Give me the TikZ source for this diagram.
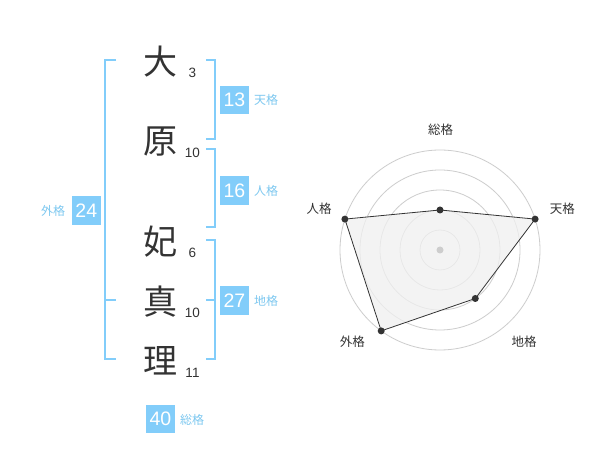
\documentclass[tikz,border=0pt]{standalone}
\usepackage{fontspec}
\setmainfont{Liberation Sans}
\newfontfamily\jp{Noto Sans CJK JP}
\definecolor{sky}{RGB}{130,205,250}
\definecolor{skytext}{RGB}{125,200,240}
\definecolor{ink}{RGB}{51,51,51}
\definecolor{ringc}{RGB}{205,205,205}
\definecolor{areac}{RGB}{240,240,240}
\begin{document}
\begin{tikzpicture}[x=1pt,y=-1pt,
 kanji/.style={font=\jp\fontsize{34}{34}\selectfont, text=ink, inner sep=0},
 strokes/.style={font=\fontsize{13.5}{14}\selectfont, text=ink, inner sep=0},
 valbox/.style={fill=sky, text=white, minimum size=28.5pt, inner sep=0, font=\fontsize{19.5}{19.5}\selectfont},
 kaku/.style={font=\jp\fontsize{12}{12}\selectfont, text=skytext, inner sep=0},
 bracket/.style={draw=sky, line width=2pt},
 ring/.style={draw=ringc, line width=0.8pt},
 axislabel/.style={font=\jp\fontsize{12.5}{12.5}\selectfont, text=ink, inner sep=0},
 dot/.style={circle, fill=ink, inner sep=0, minimum size=7pt},
]
\useasboundingbox[fill=white] (0,0) rectangle (600,470);

% name characters
\node[kanji] (k1) at (160,62) {大};
\node[kanji] (k2) at (160,142) {原};
\node[kanji] (k3) at (160,242) {妃};
\node[kanji] (k4) at (160,302) {真};
\node[kanji] (k5) at (160,361) {理};

\node[strokes] (s1) at (192.5,73) {3};
\node[strokes] (s2) at (192.5,153) {10};
\node[strokes] (s3) at (192.5,253) {6};
\node[strokes] (s4) at (192.5,313) {10};
\node[strokes] (s5) at (192.5,373) {11};

% brackets
\draw[bracket] (206,60) -- (215,60) -- (215,139.5) -- (206,139.5);
\draw[bracket] (206,149.5) -- (215,149.5) -- (215,227) -- (206,227);
\draw[bracket] (206,240) -- (215,240) -- (215,359.5) -- (206,359.5);
\draw[bracket] (206,300) -- (215,300);
\draw[bracket] (116,60) -- (105,60) -- (105,359.5) -- (116,359.5);
\draw[bracket] (105,300) -- (116,300);

% values
\node[valbox] (v1) at (234.5,100) {13};
\node[kaku] (l1) at (266,100) {天格};
\node[valbox] (v2) at (234.5,190.5) {16};
\node[kaku] (l2) at (266,190.5) {人格};
\node[valbox] (v3) at (234.5,300.5) {27};
\node[kaku] (l3) at (266,300.5) {地格};
\node[valbox] (v4) at (86.3,210.5) {24};
\node[kaku] (l4) at (53,210.5) {外格};
\node[valbox] (v5) at (160.5,419) {40};
\node[kaku] (l5) at (192,420) {総格};

% radar chart
\coordinate (c) at (440,250);
\foreach \r in {20,40,60,80,100} \draw[ring] (c) circle[radius=\r];
\coordinate (p1) at (440,210);
\coordinate (p2) at (535.1,219.1);
\coordinate (p3) at (475.3,298.5);
\coordinate (p4) at (381.2,330.9);
\coordinate (p5) at (344.9,219.1);
\filldraw[fill=areac, fill opacity=0.75, draw=ink, line width=0.8pt] (p1) -- (p2) -- (p3) -- (p4) -- (p5) -- cycle;
\fill[ringc] (c) circle[radius=3.5];
\foreach \p in {p1,p2,p3,p4,p5} \node[dot] at (\p) {};

\node[axislabel] (a1) at (440.5,130) {総格};
\node[axislabel] (a2) at (562.3,208.3) {天格};
\node[axislabel] (a3) at (524,342) {地格};
\node[axislabel] (a4) at (352.3,342) {外格};
\node[axislabel] (a5) at (319,208.3) {人格};
\end{tikzpicture}
\end{document}
